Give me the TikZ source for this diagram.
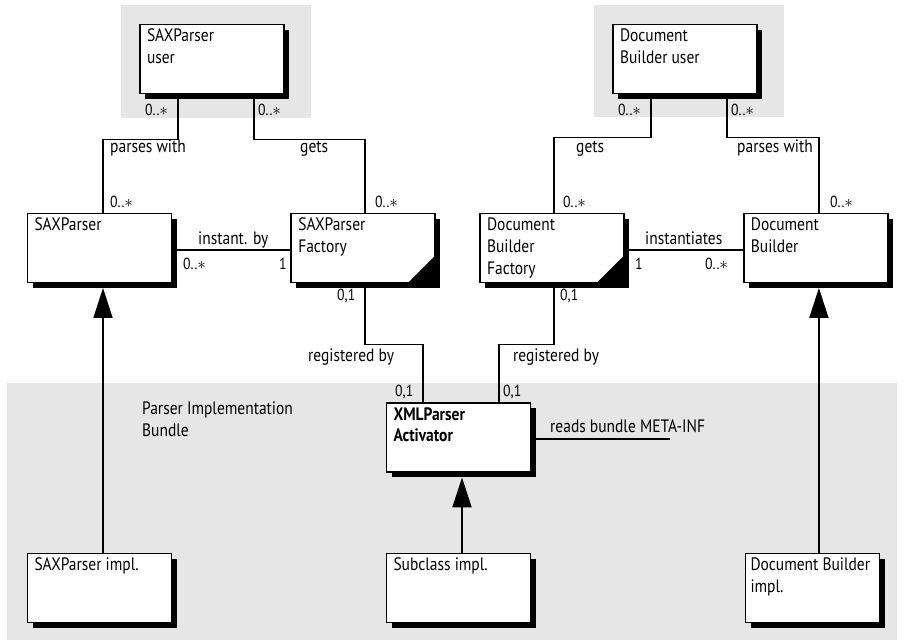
\documentclass[tikz,border=0pt]{standalone}
\usepackage{fontspec}
\setmainfont{PT Sans}[FakeStretch=0.86]
\usetikzlibrary{arrows.meta,positioning,shadows}
\definecolor{bggray}{RGB}{230,230,230}
\newcommand{\boxtext}[2][130pt]{\parbox[c][60pt][t]{#1}{\raggedright #2}}
\newcommand{\many}{0..{\fontsize{19}{19}\selectfont$\ast$}}

\begin{document}
\begin{tikzpicture}[
  x=1pt, y=-1pt,
  every node/.style={font=\fontsize{18}{21.7}\selectfont},
  cls/.style={draw, line width=1.8pt, fill=white, inner sep=0pt, minimum width=144pt, minimum height=69pt,
    drop shadow={shadow xshift=5pt, shadow yshift=-5pt, fill=black, opacity=1}},
  fac/.style={cls, path picture={\fill[black] (path picture bounding box.south east) -- ++(-27pt,0pt) -- ++(27pt,27pt) -- cycle;}},
  conn/.style={line width=1.8pt},
  gen/.style={line width=1.8pt, -{Triangle[length=30pt, width=19pt]}, shorten >=4.5pt},
  lbl/.style={inner sep=0pt},
  mult/.style={inner sep=0pt, font=\fontsize{16}{18}\selectfont}
]
\useasboundingbox (0,0) rectangle (904,641);
% grey areas
\fill[bggray] (121,5) rectangle (311,118);
\fill[bggray] (594,5) rectangle (784,117);
\fill[bggray] (7,383) rectangle (897,640);

% classes
\node[cls] (saxuser) at (212,59) {\boxtext{SAXParser\\user}};
\node[cls] (dbuser) at (685,59) {\boxtext{Document\\Builder user}};
\node[cls] (sax) at (99.5,248) {\boxtext{SAXParser}};
\node[fac, right=118pt of sax] (saxfac) {\boxtext{SAXParser\\Factory}};
\node[fac, right=43pt of saxfac] (dbfac) {\boxtext{Document\\Builder\\Factory}};
\node[cls, right=118pt of dbfac] (db) {\boxtext{Document\\Builder}};
\node[cls] (act) at (458.5,437.5) {\boxtext{\bfseries XMLParser\\Activator}};
\node[cls] (saximpl) at (99.5,588) {\boxtext{SAXParser impl.}};
\node[cls] (subimpl) at (458.5,588) {\boxtext{Subclass impl.}};
\node[cls, minimum width=134pt] (dbimpl) at (812.5,588) {\boxtext[124pt]{Document Builder\\impl.}};

% associations
\draw[conn] ([xshift=-34pt]saxuser.south) -- ++(0,45) -| ([xshift=3.5pt]sax.north);
\draw[conn] ([xshift=42pt]saxuser.south) -- ++(0,45) -| ([xshift=2pt]saxfac.north);
\draw[conn] ([xshift=-34pt]dbuser.south) -- ++(0,43) -| ([xshift=2pt]dbfac.north);
\draw[conn] ([xshift=42pt]dbuser.south) -- ++(0,43) -| ([xshift=3pt]db.north);
\draw[conn] ([yshift=-2pt]sax.east) -- ([yshift=-2pt]saxfac.west);
\draw[conn] ([yshift=-2pt]dbfac.east) -- ([yshift=-2pt]db.west);
\draw[conn] ([xshift=2pt]saxfac.south) -- ++(0,61) -| ([xshift=-35.5pt]act.north);
\draw[conn] ([xshift=2pt]dbfac.south) -- ++(0,61) -| ([xshift=40.5pt]act.north);
\coordinate (meta) at (670,439);
\draw[conn] ([yshift=-1.5pt]act.east) -- (meta);

% generalisations
\draw[gen] ([xshift=3.5pt]saximpl.north) -- ([xshift=3.5pt]sax.south);
\draw[gen] ([xshift=3.5pt]subimpl.north) -- ([xshift=3.5pt]act.south);
\draw[gen] ([xshift=3pt]db.south |- dbimpl.north) -- ([xshift=3pt]db.south);

% labels
\node[lbl, anchor=base west] (pw1) at (110,152) {parses with};
\node[lbl, anchor=base west] (gt1) at (300,152) {gets};
\node[lbl, anchor=base west] (gt2) at (576,152) {gets};
\node[lbl, anchor=base west] (pw2) at (737,152) {parses with};
\node[lbl, anchor=base west] (ib) at (198,244) {instant. by};
\node[lbl, anchor=base west] (inst) at (645,244) {instantiates};
\node[lbl, anchor=base west] (rb1) at (308,361) {registered by};
\node[lbl, anchor=base west] (rb2) at (513,361) {registered by};
\node[lbl, anchor=base west] (rbm) at (550,432) {reads bundle META-INF};
\node[lbl, anchor=north west, align=left] (bundle) at (142,402) {Parser Implementation\\Bundle};

% multiplicities
\node[mult, anchor=base west] (m1) at (145,115) {\many};
\node[mult, anchor=base west] (m2) at (258,115) {\many};
\node[mult, anchor=base west] (m3) at (618,115) {\many};
\node[mult, anchor=base west] (m4) at (731,115) {\many};
\node[mult, anchor=base west] (m5) at (110,207) {\many};
\node[mult, anchor=base west] (m6) at (375,207) {\many};
\node[mult, anchor=base west] (m7) at (563,207) {\many};
\node[mult, anchor=base west] (m8) at (830,207) {\many};
\node[mult, anchor=base west] (m9) at (183,269) {\many};
\node[mult, anchor=base west] (m10) at (279,269) {1};
\node[mult, anchor=base west] (m11) at (635,269) {1};
\node[mult, anchor=base west] (m12) at (705,269) {\many};
\node[mult, anchor=base west] (m13) at (337,300) {0,1};
\node[mult, anchor=base west] (m14) at (560,300) {0,1};
\node[mult, anchor=base west] (m15) at (395,396) {0,1};
\node[mult, anchor=base west] (m16) at (503,396) {0,1};
\end{tikzpicture}
\end{document}
